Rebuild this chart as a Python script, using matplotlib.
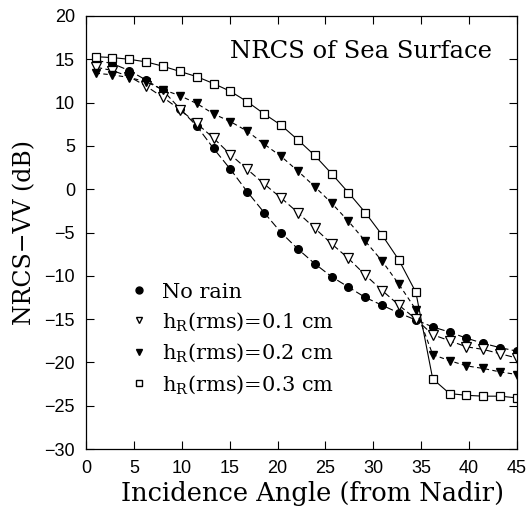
import numpy as np
import matplotlib
matplotlib.use('Agg')
import matplotlib.pyplot as plt
from matplotlib.lines import Line2D

# incidence angles sampled in the chart (26 points, 1 to 45 deg)
angle = [1.0, 2.76, 4.52, 6.28, 8.04, 9.8, 11.56, 13.32, 15.08, 16.84,
         18.6, 20.36, 22.12, 23.88, 25.64, 27.4, 29.16, 30.92, 32.68, 34.44,
         36.2, 37.96, 39.72, 41.48, 43.24, 45.0]

no_rain = [14.9, 14.5, 13.7, 12.6, 11.4, 9.3, 7.3, 4.7, 2.3, -0.3,
           -2.7, -5.0, -6.9, -8.6, -10.1, -11.3, -12.5, -13.4, -14.3, -15.1,
           -15.9, -16.5, -17.2, -17.8, -18.3, -18.7]
h01 = [14.1, 13.7, 13.0, 11.9, 10.6, 9.2, 7.6, 5.9, 4.0, 2.3,
       0.6, -1.0, -2.7, -4.5, -6.3, -8.0, -9.9, -11.7, -13.4, -15.0,
       -16.8, -17.5, -18.2, -18.5, -19.0, -19.5]
h02 = [13.4, 13.2, 12.9, 12.4, 11.5, 10.8, 9.9, 8.7, 7.8, 6.7,
       5.2, 3.8, 2.1, 0.3, -1.6, -3.7, -6.0, -8.3, -11.0, -13.9,
       -19.1, -19.8, -20.4, -20.7, -21.1, -21.4]
h03 = [15.3, 15.2, 15.0, 14.7, 14.2, 13.6, 13.0, 12.2, 11.3, 10.1,
       8.7, 7.4, 5.7, 3.9, 1.8, -0.4, -2.7, -5.3, -8.2, -11.9,
       -21.9, -23.6, -23.8, -23.9, -23.9, -24.1]

labels = ['No rain',
          r'h$_\mathrm{R}$(rms)=0.1 cm',
          r'h$_\mathrm{R}$(rms)=0.2 cm',
          r'h$_\mathrm{R}$(rms)=0.3 cm']

plt.rcParams['mathtext.fontset'] = 'dejavuserif'

fig = plt.figure(figsize=(5.29, 5.09), dpi=100)
ax = fig.add_axes([86/529, 1 - 449/509, 431/529, 433/509])

ax.plot(angle, no_rain, color='black', lw=0.8, dashes=(7, 3),
        marker='o', ms=5.5, mfc='black', mec='black')
ax.plot(angle, h01, color='black', lw=0.8, dashes=(6, 3),
        marker='v', ms=6.5, mfc='white', mec='black', mew=0.9)
ax.plot(angle, h02, color='black', lw=0.8, dashes=(4, 3),
        marker='v', ms=6, mfc='black', mec='black')
ax.plot(angle, h03, color='black', lw=0.8, ls='-',
        marker='s', ms=5.5, mfc='white', mec='black', mew=0.9)

ax.set_xlim(0, 45)
ax.set_ylim(-30, 20)
ax.set_xticks(np.arange(0, 46, 5))
ax.set_yticks(np.arange(-30, 21, 5))
ax.set_yticklabels([str(v).replace('-', '\u2212') for v in range(-30, 21, 5)])
ax.tick_params(direction='in', length=6, width=0.8, top=True, right=True,
               labelsize=13, pad=8)
for t in ax.get_xticklabels() + ax.get_yticklabels():
    t.set_family('Liberation Sans')
for s in ax.spines.values():
    s.set_linewidth(0.9)

ax.set_xlabel('Incidence Angle (from Nadir)', family='DejaVu Serif',
              fontsize=18.5, labelpad=3)
ax.xaxis.label.set_x(0.525)
ax.set_ylabel('NRCS\u2212VV (dB)', family='DejaVu Serif', fontsize=17, labelpad=6)

ax.text(0.942, 0.917, 'NRCS of Sea Surface', transform=ax.transAxes,
        ha='right', va='center', family='DejaVu Serif', fontsize=17.5)

handles = [Line2D([], [], ls='none', marker='o', ms=5, mfc='black', mec='black'),
           Line2D([], [], ls='none', marker='v', ms=5, mfc='white', mec='black'),
           Line2D([], [], ls='none', marker='v', ms=5, mfc='black', mec='black'),
           Line2D([], [], ls='none', marker='s', ms=4.5, mfc='white', mec='black')]
ax.legend(handles, labels, loc='lower left', bbox_to_anchor=(0.05, 0.08),
          frameon=False, prop={'family': 'DejaVu Serif', 'size': 15},
          handletextpad=0.5, labelspacing=0.42, handlelength=1.2)

fig.savefig('out.png', dpi=100)
